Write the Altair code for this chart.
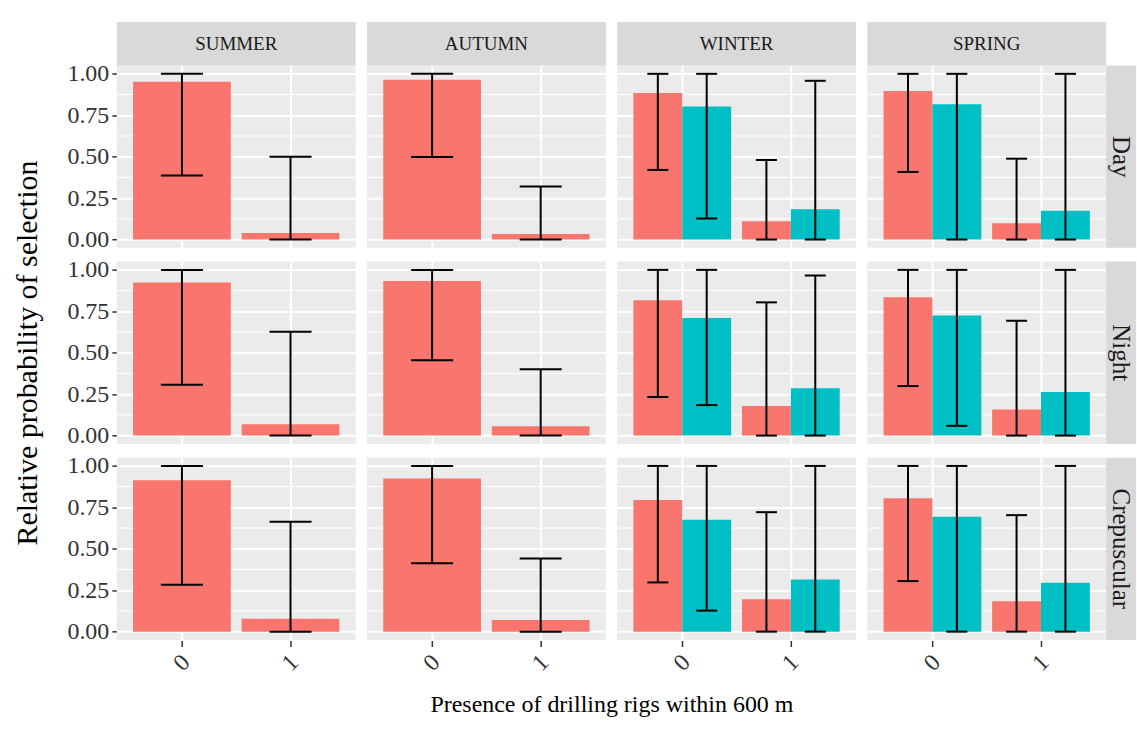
import json
import altair as alt
import pandas as pd

SEASONS = ["SUMMER", "AUTUMN", "WINTER", "SPRING"]
TIMES = ["Day", "Night", "Crepuscular"]
RIGS = ["0", "1"]
GROUPS = ["A", "B"]
COLORS = ["#F8766D", "#00BFC4"]

# Group A (red) — per time of day, per season: [rig 0, rig 1]
A_EST = {
    "Day":         [[0.952, 0.040], [0.964, 0.034], [0.884, 0.110], [0.896, 0.098]],
    "Night":       [[0.924, 0.069], [0.933, 0.057], [0.816, 0.178], [0.835, 0.158]],
    "Crepuscular": [[0.914, 0.078], [0.924, 0.071], [0.795, 0.195], [0.805, 0.183]],
}
A_LO = {
    "Day":         [[0.386, 0.0], [0.498, 0.0], [0.420, 0.0], [0.408, 0.0]],
    "Night":       [[0.307, 0.0], [0.455, 0.0], [0.233, 0.0], [0.299, 0.0]],
    "Crepuscular": [[0.283, 0.0], [0.413, 0.0], [0.297, 0.0], [0.305, 0.0]],
}
A_HI = {
    "Day":         [[1.0, 0.500], [1.0, 0.320], [1.0, 0.480], [1.0, 0.488]],
    "Night":       [[1.0, 0.627], [1.0, 0.400], [1.0, 0.804], [1.0, 0.693]],
    "Crepuscular": [[1.0, 0.663], [1.0, 0.442], [1.0, 0.721], [1.0, 0.703]],
}
# Group B (teal) — only WINTER and SPRING
B_SEASONS = ["WINTER", "SPRING"]
B_EST = {
    "Day":         [[0.803, 0.183], [0.817, 0.173]],
    "Night":       [[0.709, 0.285], [0.724, 0.263]],
    "Crepuscular": [[0.675, 0.315], [0.693, 0.295]],
}
B_LO = {
    "Day":         [[0.127, 0.0], [0.0, 0.0]],
    "Night":       [[0.184, 0.0], [0.059, 0.0]],
    "Crepuscular": [[0.127, 0.0], [0.0, 0.0]],
}
B_HI = {
    "Day":         [[1.0, 0.958], [1.0, 1.0]],
    "Night":       [[1.0, 0.966], [1.0, 1.0]],
    "Crepuscular": [[1.0, 1.0], [1.0, 1.0]],
}

MAJOR = [0.0, 0.25, 0.5, 0.75, 1.0]
MINOR = [0.125, 0.375, 0.625, 0.875]
X_TITLE = "Presence of drilling rigs within 600 m"
Y_TITLE = "Relative probability of selection"

rows = []
for t in TIMES:
    for si, s in enumerate(SEASONS):
        for ri, r in enumerate(RIGS):
            rows.append(dict(time=t, season=s, rig=r, group="A",
                             est=A_EST[t][si][ri], lo=A_LO[t][si][ri], hi=A_HI[t][si][ri]))
    for si, s in enumerate(B_SEASONS):
        for ri, r in enumerate(RIGS):
            rows.append(dict(time=t, season=s, rig=r, group="B",
                             est=B_EST[t][si][ri], lo=B_LO[t][si][ri], hi=B_HI[t][si][ri]))
df = pd.DataFrame(rows)

FONT = "Liberation Serif"
W = 239.3
H = 182.6
SH = 43.7
RSW = 30
PANEL_BG = "#EBEBEB"
STRIP_BG = "#D9D9D9"
PAD_INNER, PAD_OUTER = 0.1, 0.15
CAP_FRAC = 0.43
BAND_PX = W / (len(RIGS) - PAD_INNER + 2 * PAD_OUTER) * (1 - PAD_INNER)
CAP_PX = CAP_FRAC * BAND_PX

yscale = alt.Scale(domain=[-0.05, 1.05], nice=False, zero=False)
xscale = alt.Scale(domain=RIGS, paddingInner=PAD_INNER, paddingOuter=PAD_OUTER)
oscale = alt.Scale(paddingInner=0, paddingOuter=0)
color_scale = alt.Scale(domain=GROUPS, range=COLORS)

xaxis = alt.Axis(grid=True, gridColor="white", gridWidth=2, bandPosition=0.5,
                 domain=False, labelAngle=-45, labelAlign="center", labelBaseline="middle",
                 labelPadding=16, labelFontSize=24, labelColor="#333333",
                 tickColor="#333333", tickWidth=1.5, tickSize=6, title=None)
yaxis = alt.Axis(values=MAJOR, format=".2f", grid=True, gridColor="white", gridWidth=2,
                 domain=False, tickColor="#333333", tickWidth=1.5, tickSize=5,
                 labelPadding=3, labelFontSize=24, labelColor="#333333", title=None)

X = alt.X("rig:N", scale=xscale, axis=xaxis)
XO = alt.XOffset("group:N", scale=oscale)

base = alt.Chart()
one_per_cell = "datum.rig == '0' && datum.group == 'A'"

minor = base.transform_filter(one_per_cell).transform_calculate(
    v=json.dumps(MINOR)).transform_flatten(["v"]).mark_rule(
    color="white", strokeWidth=1).encode(y=alt.Y("v:Q", scale=yscale, axis=yaxis))

bars = base.mark_bar().encode(
    x=X, xOffset=XO,
    y=alt.Y("est:Q", scale=yscale, axis=yaxis), y2=alt.datum(0),
    color=alt.Color("group:N", scale=color_scale, legend=None))

err = base.mark_rule(color="black", strokeWidth=2).encode(
    x=X, xOffset=XO, y=alt.Y("lo:Q", scale=yscale, axis=yaxis), y2="hi:Q")

caps_base = base.transform_joinaggregate(
    ng="distinct(group)", groupby=["time", "season"]).transform_calculate(
    capw="%f / datum.ng" % CAP_PX)
cap_hi = caps_base.mark_tick(orient="horizontal", thickness=2, color="black", opacity=1).encode(
    x=X, xOffset=XO, y=alt.Y("hi:Q", scale=yscale, axis=yaxis),
    size=alt.Size("capw:Q", scale=None, legend=None))
cap_lo = caps_base.mark_tick(orient="horizontal", thickness=2, color="black", opacity=1).encode(
    x=X, xOffset=XO, y=alt.Y("lo:Q", scale=yscale, axis=yaxis),
    size=alt.Size("capw:Q", scale=None, legend=None))

# facet strips (ggplot-style grey boxes)
top_cells = base.transform_filter(one_per_cell + " && datum.time == '%s'" % TIMES[0])
col_bg = top_cells.mark_rect(color=STRIP_BG).encode(
    x=alt.value(0), x2=alt.value(W), y=alt.value(-SH), y2=alt.value(0))
col_txt = top_cells.mark_text(font=FONT, fontSize=19, color="#1A1A1A").encode(
    x=alt.value(W / 2), y=alt.value(-SH / 2), text="season:N")

right_cells = base.transform_filter(one_per_cell + " && datum.season == '%s'" % SEASONS[-1])
row_bg = right_cells.mark_rect(color=STRIP_BG).encode(
    x=alt.value(W), x2=alt.value(W + RSW), y=alt.value(0), y2=alt.value(H))
row_txt = right_cells.mark_text(font=FONT, fontSize=25, color="#1A1A1A", angle=90).encode(
    x=alt.value(W + RSW / 2), y=alt.value(H / 2), text="time:N")

# transparent counterweights so the shared titles centre on the panels only
bottom_cells = base.transform_filter(one_per_cell + " && datum.time == '%s'" % TIMES[-1])
bal_bottom = bottom_cells.mark_rect(opacity=0).encode(
    x=alt.value(0), x2=alt.value(W), y=alt.value(H), y2=alt.value(H + SH))
left_cells = base.transform_filter(one_per_cell + " && datum.season == '%s'" % SEASONS[0])
bal_left = left_cells.mark_rect(opacity=0).encode(
    x=alt.value(-RSW), x2=alt.value(0), y=alt.value(0), y2=alt.value(H))

chart = alt.layer(minor, bars, err, cap_hi, cap_lo, col_bg, col_txt, row_bg, row_txt,
                  bal_bottom, bal_left,
                  data=df).properties(width=W, height=H).facet(
    row=alt.Row("time:N", sort=TIMES, header=alt.Header(
        labels=False, title=Y_TITLE, titleOrient="left", titleFont=FONT, titleFontSize=30,
        titleFontWeight="normal", titleColor="black", titlePadding=14)),
    column=alt.Column("season:N", sort=SEASONS, header=alt.Header(
        labels=False, title=X_TITLE, titleOrient="bottom", titleFont=FONT, titleFontSize=24,
        titleFontWeight="normal", titleColor="black", titlePadding=8)),
    spacing={"row": 13.4, "column": 10.6},
    bounds="flush",
).resolve_scale(xOffset="independent").properties(
    padding={"left": 12, "top": 21, "right": 0, "bottom": 30},
    background="white",
).configure(font=FONT).configure_view(fill=PANEL_BG, stroke=None)

chart.save("out.html", embed_options={"renderer": "svg", "actions": False})
